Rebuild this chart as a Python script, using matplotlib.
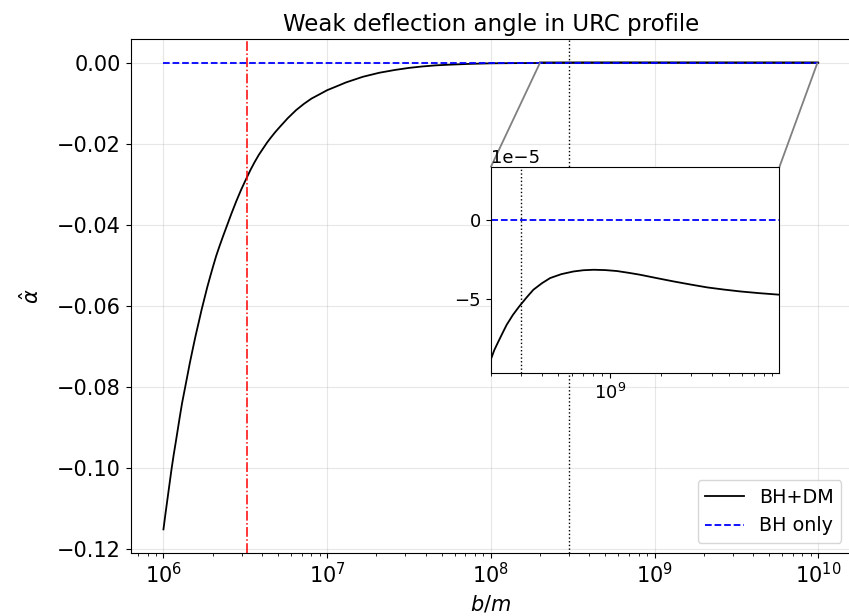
import matplotlib
matplotlib.use("Agg")
import matplotlib.pyplot as plt
import numpy as np
from mpl_toolkits.axes_grid1.inset_locator import mark_inset

# impact parameter b/m and deflection angle
b_vals = [1.00e6, 1.03e6, 1.06e6, 1.09e6, 1.12e6, 1.155e6, 1.19e6, 1.225e6, 1.26e6, 1.30e6,
          1.35e6, 1.40e6, 1.45e6, 1.51e6, 1.57e6, 1.64e6, 1.71e6, 1.78e6, 1.85e6, 1.93e6,
          2.01e6, 2.10e6, 2.20e6, 2.31e6, 2.43e6, 2.60e6, 2.78e6, 2.98e6, 3.21e6, 3.40e6,
          3.60e6, 3.82e6, 4.06e6, 4.30e6, 4.55e6, 4.83e6, 5.13e6, 5.75e6, 6.47e6, 7.20e6,
          8.00e6, 9.00e6, 1.00e7, 1.15e7, 1.30e7, 1.65e7, 2.08e7, 2.60e7, 3.16e7, 3.80e7,
          4.60e7, 5.62e7, 7.50e7, 1.00e8, 1.40e8, 2.00e8, 2.10e8, 2.22e8, 2.35e8, 2.48e8,
          2.70e8, 2.94e8, 3.24e8, 3.56e8, 4.00e8, 4.47e8, 5.20e8, 6.12e8, 7.00e8, 8.04e8,
          9.40e8, 1.10e9, 1.30e9, 1.51e9, 1.90e9, 2.38e9, 3.00e9, 3.74e9, 4.70e9, 5.87e9,
          7.60e9, 1.00e10]
alpha_dm = [-0.1152, -0.1112, -0.1075, -0.1039, -0.1004, -0.0968, -0.0936, -0.0904, -0.0873, -0.0840,
            -0.0806, -0.0773, -0.0741, -0.0707, -0.0675, -0.0642, -0.0610, -0.0582, -0.0555, -0.0528,
            -0.0503, -0.0477, -0.0453, -0.0429, -0.0405, -0.0373, -0.0343, -0.0314, -0.0286, -0.0265,
            -0.0246, -0.0228, -0.0212, -0.0197, -0.0184, -0.0171, -0.0159, -0.0137, -0.0117, -0.0102,
            -0.0089, -0.0078, -0.0068, -0.0058, -0.0049, -0.0035, -0.0025, -0.0018, -0.0013, -0.00095,
            -0.00067, -0.0005, -0.00030, -0.00017, -0.00012, -8.93e-5, -8.30e-5, -7.75e-5, -7.20e-5, -6.69e-5,
            -6.05e-5, -5.51e-5, -4.95e-5, -4.44e-5, -4.02e-5, -3.69e-5, -3.44e-5, -3.27e-5, -3.19e-5, -3.16e-5,
            -3.18e-5, -3.24e-5, -3.36e-5, -3.48e-5, -3.70e-5, -3.91e-5, -4.11e-5, -4.29e-5, -4.43e-5, -4.55e-5,
            -4.66e-5, -4.76e-5]
alpha_bh = [0.0 for _ in b_vals]

b_core = 3.23e6       # red dash-dot marker
b_inset_mark = 3.0e8  # dotted marker
inset_xlim = (2.0e8, 0.99e10)
inset_ylim = (-9.75e-5, 3.4e-5)

W, H = 849, 616
fig = plt.figure(figsize=(W / 100, H / 100), dpi=100)
ax = fig.add_axes([130.7 / W, (H - 552.7) / H, (851 - 130.7) / W, (552.7 - 39.3) / H])

ax.plot(b_vals, alpha_dm, color="black", lw=1.3, label="BH+DM")
ax.plot(b_vals, alpha_bh, color="blue", ls="--", lw=1.3, label="BH only")
ax.axvline(b_core, color="red", ls="-.", lw=1.1)
ax.axvline(b_inset_mark, color="black", ls=":", lw=1.0)
ax.set_xscale("log")
ax.grid(True, alpha=0.3)
ax.set_title("Weak deflection angle in URC profile", fontsize=16.5)
ax.set_xlabel("$b/m$", fontsize=15)
ax.set_ylabel(r"$\hat{\alpha}$", fontsize=15, labelpad=10)
ax.tick_params(labelsize=15)
ax.legend(loc="lower right", fontsize=13.8)

axins = fig.add_axes([490.7 / W, (H - 372.7) / H, 288.6 / W, 205.4 / H])
axins.plot(b_vals, alpha_dm, color="black", lw=1.3)
axins.plot(b_vals, alpha_bh, color="blue", ls="--", lw=1.3)
axins.axvline(b_inset_mark, color="black", ls=":", lw=1.0)
axins.set_xscale("log")
axins.set_xlim(*inset_xlim)
axins.set_ylim(*inset_ylim)
axins.set_yticks([-5e-5, 0])
axins.tick_params(labelsize=13)
axins.yaxis.get_offset_text().set_fontsize(13)

mark_inset(ax, axins, loc1=2, loc2=1, fc="none", ec="0.5", lw=1.3)

fig.savefig("out.png", dpi=100)
